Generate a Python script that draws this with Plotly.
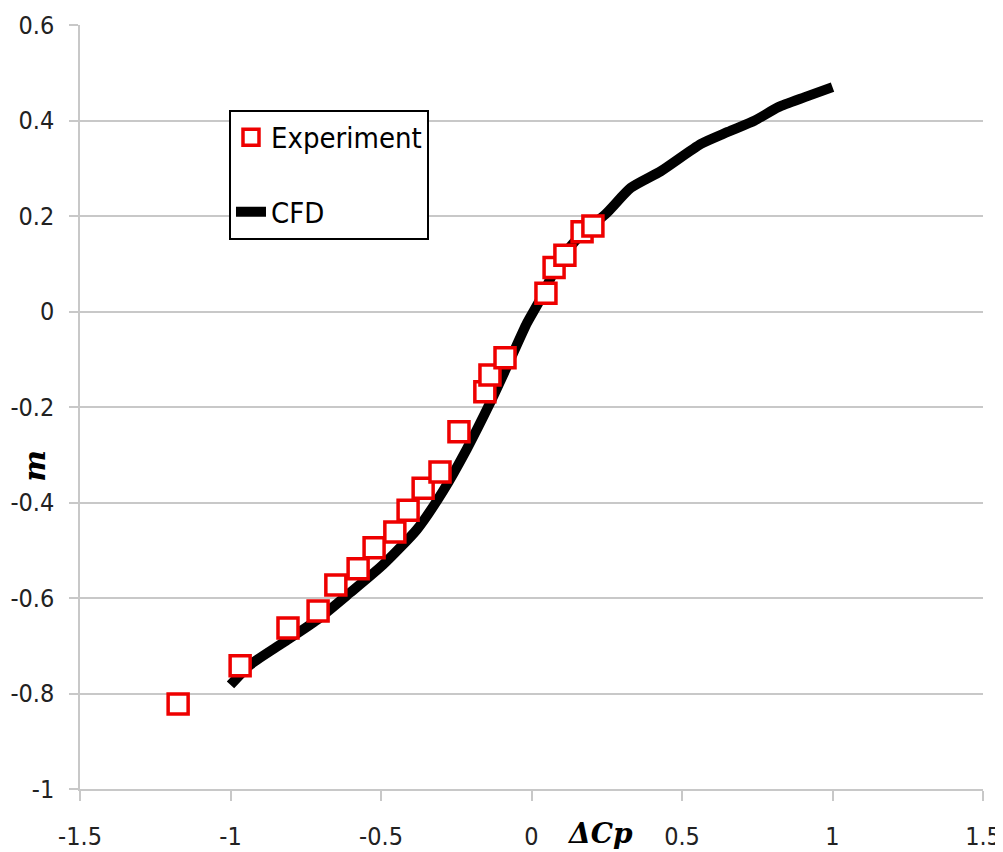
import plotly.graph_objects as go

# Experiment data (ΔCp, m)
exp_dcp = [-1.174, -0.968, -0.809, -0.709, -0.650, -0.576, -0.523, -0.454, -0.410, -0.360,
           -0.304, -0.241, -0.155, -0.138, -0.088, 0.048, 0.075, 0.111, 0.168, 0.204]
exp_m = [-0.822, -0.742, -0.663, -0.627, -0.573, -0.539, -0.495, -0.462, -0.416, -0.370,
         -0.336, -0.252, -0.168, -0.133, -0.097, 0.038, 0.092, 0.118, 0.167, 0.179]

# CFD curve (ΔCp, m)
cfd_dcp = [-1.0, -0.935, -0.826, -0.713, -0.603, -0.493, -0.380, -0.294, -0.215, -0.138,
           -0.071, -0.015, 0.028, 0.095, 0.170, 0.246, 0.330, 0.430, 0.563, 0.652, 0.742,
           0.820, 0.908, 1.0]
cfd_m = [-0.782, -0.740, -0.694, -0.646, -0.589, -0.530, -0.456, -0.376, -0.288, -0.192,
         -0.101, -0.024, 0.024, 0.108, 0.165, 0.204, 0.259, 0.294, 0.351, 0.376, 0.400,
         0.428, 0.449, 0.470]

x_ticks = [-1.5, -1, -0.5, 0, 0.5, 1, 1.5]
x_tick_labels = ["-1.5", "-1", "-0.5", "0", "0.5", "1", "1.5"]
y_ticks = [-1, -0.8, -0.6, -0.4, -0.2, 0, 0.2, 0.4, 0.6]
y_tick_labels = ["-1", "-0.8", "-0.6", "-0.4", "-0.2", "0", "0.2", "0.4", "0.6"]

narrow = "DejaVu Sans Condensed, Liberation Sans Narrow, Roboto, Arial"
tick_font = dict(family=narrow, size=25, color="#222222")
grid_col = "#c8c8c8"

fig = go.Figure()
fig.add_trace(go.Scatter(
    x=cfd_dcp, y=cfd_m, mode="lines", name="CFD",
    line=dict(color="black", width=10, shape="spline", smoothing=0.6),
    legendrank=2, legendgroup="b",
))
fig.add_trace(go.Scatter(
    x=exp_dcp, y=exp_m, mode="markers", name="Experiment",
    marker=dict(symbol="square", size=20, color="white",
                line=dict(color="#ee0000", width=3.5)),
    legendrank=1, legendgroup="a",
))

fig.update_layout(
    width=995, height=844,
    margin=dict(l=72, r=20, t=17, b=63),
    plot_bgcolor="white", paper_bgcolor="white",
    showlegend=True,
    legend=dict(
        x=0.165, y=0.889, xanchor="left", yanchor="top",
        bgcolor="white", bordercolor="black", borderwidth=2,
        font=dict(family=narrow, size=29, color="black"),
        tracegroupgap=34, traceorder="grouped",
        itemwidth=30,
    ),
    xaxis=dict(
        range=[-1.5, 1.5], tickvals=x_ticks, ticktext=x_tick_labels,
        showgrid=False, zeroline=False, automargin=False,
        showline=True, linecolor=grid_col, linewidth=1.5,
        ticks="outside", ticklen=10, tickcolor=grid_col, tickwidth=1.5,
        tickfont=tick_font, ticklabelstandoff=14,
    ),
    yaxis=dict(
        range=[-1, 0.6], tickvals=y_ticks, ticktext=y_tick_labels,
        showgrid=True, gridcolor=grid_col, gridwidth=1.5, zeroline=False, automargin=False,
        showline=True, linecolor=grid_col, linewidth=1.5,
        ticks="outside", ticklen=9, tickcolor=grid_col, tickwidth=1.5,
        tickfont=tick_font, ticklabelstandoff=10,
    ),
    annotations=[
        dict(text="<b><i>m</i></b>", xref="paper", yref="paper", textangle=-90,
             x=-0.0498, y=0.423, xanchor="center", yanchor="middle", showarrow=False,
             font=dict(family="DejaVu Serif", size=30, color="black")),
        dict(text="<b><i>ΔCp</i></b>", xref="paper", yref="paper",
             x=0.576, y=-0.0576, xanchor="center", yanchor="middle", showarrow=False,
             font=dict(family="DejaVu Serif", size=28, color="black")),
    ],
)

fig.write_html("out.html")
